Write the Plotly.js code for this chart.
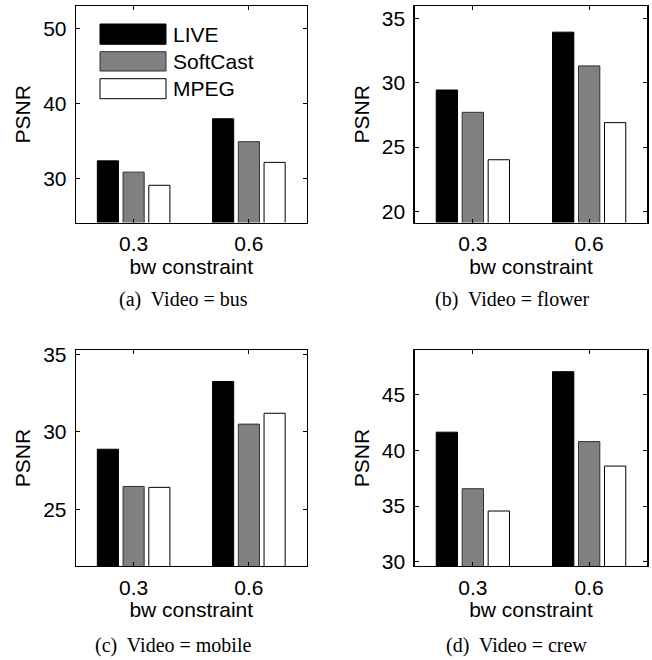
<!DOCTYPE html>
<html>
<head>
<meta charset="utf-8">
<script src="https://cdn.plot.ly/plotly-3.0.1.min.js"></script>
<style>html,body{margin:0;padding:0;background:#fff;}#chart{width:652px;height:660px;}</style>
</head>
<body>
<div id="chart"></div>
<script>
// ---- data ----
const categories = ['0.3', '0.6'];
const seriesNames = ['LIVE', 'SoftCast', 'MPEG'];
const videos = ['bus', 'flower', 'mobile', 'crew'];
const captionLetters = ['a', 'b', 'c', 'd'];
// PSNR values per video: [LIVE, SoftCast, MPEG], each [bw 0.3, bw 0.6]
const busLIVE = [32.35, 37.95];
const busSoftCast = [30.85, 34.9];
const busMPEG = [29.1, 32.15];
const flowerLIVE = [29.43, 33.92];
const flowerSoftCast = [27.7, 31.3];
const flowerMPEG = [24.02, 26.9];
const mobileLIVE = [28.88, 33.25];
const mobileSoftCast = [26.48, 30.5];
const mobileMPEG = [26.42, 31.2];
const crewLIVE = [41.65, 47.1];
const crewSoftCast = [36.56, 40.8];
const crewMPEG = [34.55, 38.6];
const yTicks = [[30, 40, 50], [20, 25, 30, 35], [25, 30, 35], [30, 35, 40, 45]];
const yRanges = [[24.15, 52.95], [19.15, 35.95], [21.35, 35.28], [29.6, 49.05]];

const dataByVideo = [
  [busLIVE, busSoftCast, busMPEG],
  [flowerLIVE, flowerSoftCast, flowerMPEG],
  [mobileLIVE, mobileSoftCast, mobileMPEG],
  [crewLIVE, crewSoftCast, crewMPEG]
];

// ---- styles ----
const fills = ['#000000', '#808080', '#ffffff'];
const edges = ['#000000', '#303030', '#000000'];
const W = 652, H = 660;
const px = v => v / W;
const py = v => 1 - v / H;
const boxes = [
  {x0: 76, x1: 306.5, y0: 6, y1: 222.5},
  {x0: 414.7, x1: 647.3, y0: 6, y1: 222.5},
  {x0: 76, x1: 306.5, y0: 350, y1: 566},
  {x0: 414.7, x1: 647.3, y0: 350, y1: 566}
];
const captionPos = [[183, 299], [512, 299], [173, 645], [516, 645]];
const FONT = 'Liberation Sans, Arial, Helvetica, sans-serif';
const SERIF = 'Liberation Serif, Times New Roman, serif';

const traces = [];
const layout = {
  width: W, height: H,
  margin: {l: 0, r: 0, t: 0, b: 0},
  paper_bgcolor: '#fff', plot_bgcolor: '#fff',
  showlegend: false,
  barmode: 'group', bargap: 0.33, bargroupgap: 0.18,
  font: {family: FONT, size: 21, color: '#000'},
  shapes: [], annotations: []
};

dataByVideo.forEach((series, i) => {
  const n = i + 1;
  const xa = 'xaxis' + (n === 1 ? '' : n), ya = 'yaxis' + (n === 1 ? '' : n);
  const xr = 'x' + (n === 1 ? '' : n), yr = 'y' + (n === 1 ? '' : n);
  series.forEach((vals, s) => {
    traces.push({
      type: 'bar', x: categories, y: vals, name: seriesNames[s],
      xaxis: xr, yaxis: yr,
      marker: {color: fills[s], line: {color: edges[s], width: 1}},
      hoverinfo: 'skip'
    });
  });
  const b = boxes[i];
  layout[xa] = {
    domain: [px(b.x0), px(b.x1)], anchor: yr, type: 'category',
    range: [-0.5, 1.5], showline: true, linecolor: '#000', linewidth: 1.3,
    mirror: 'allticks', ticks: 'inside', ticklen: 4, tickcolor: '#000',
    showgrid: false, zeroline: false, fixedrange: true,
    tickfont: {family: FONT, size: 21}, ticklabelstandoff: 2,
    title: {text: 'bw constraint', font: {family: FONT, size: 21}, standoff: 2}
  };
  layout[ya] = {
    domain: [py(b.y1), py(b.y0)], anchor: xr,
    range: yRanges[i], tickvals: yTicks[i], ticktext: yTicks[i].map(String),
    showline: true, linecolor: '#000', linewidth: 1.3,
    mirror: 'allticks', ticks: 'inside', ticklen: 4, tickcolor: '#000',
    showgrid: false, zeroline: false, fixedrange: true,
    tickfont: {family: FONT, size: 21}, ticklabelstandoff: 4,
    title: {text: 'PSNR', font: {family: FONT, size: 21}, standoff: 6}
  };
  layout.annotations.push({
    xref: 'paper', yref: 'paper', x: px(captionPos[i][0]), y: py(captionPos[i][1]),
    xanchor: 'center', yanchor: 'middle', showarrow: false,
    text: '(' + captionLetters[i] + ')\u00a0 Video = ' + videos[i],
    font: {family: SERIF, size: 20, color: '#000'}
  });
});

// legend (drawn inside panel (a))
const legRows = [[24, 44.3], [51.7, 71], [78.7, 98.7]];
seriesNames.forEach((name, s) => {
  const r = legRows[s];
  layout.shapes.push({
    type: 'rect', xref: 'paper', yref: 'paper',
    x0: px(100), x1: px(166), y0: py(r[1]), y1: py(r[0]),
    fillcolor: fills[s], line: {color: edges[s], width: 1}
  });
  layout.annotations.push({
    xref: 'paper', yref: 'paper', x: px(171), y: py((r[0] + r[1]) / 2),
    xanchor: 'left', yanchor: 'middle', showarrow: false, text: name,
    font: {family: FONT, size: 21, color: '#000'}
  });
});

Plotly.newPlot('chart', traces, layout, {staticPlot: true, displayModeBar: false});
</script>
</body>
</html>
